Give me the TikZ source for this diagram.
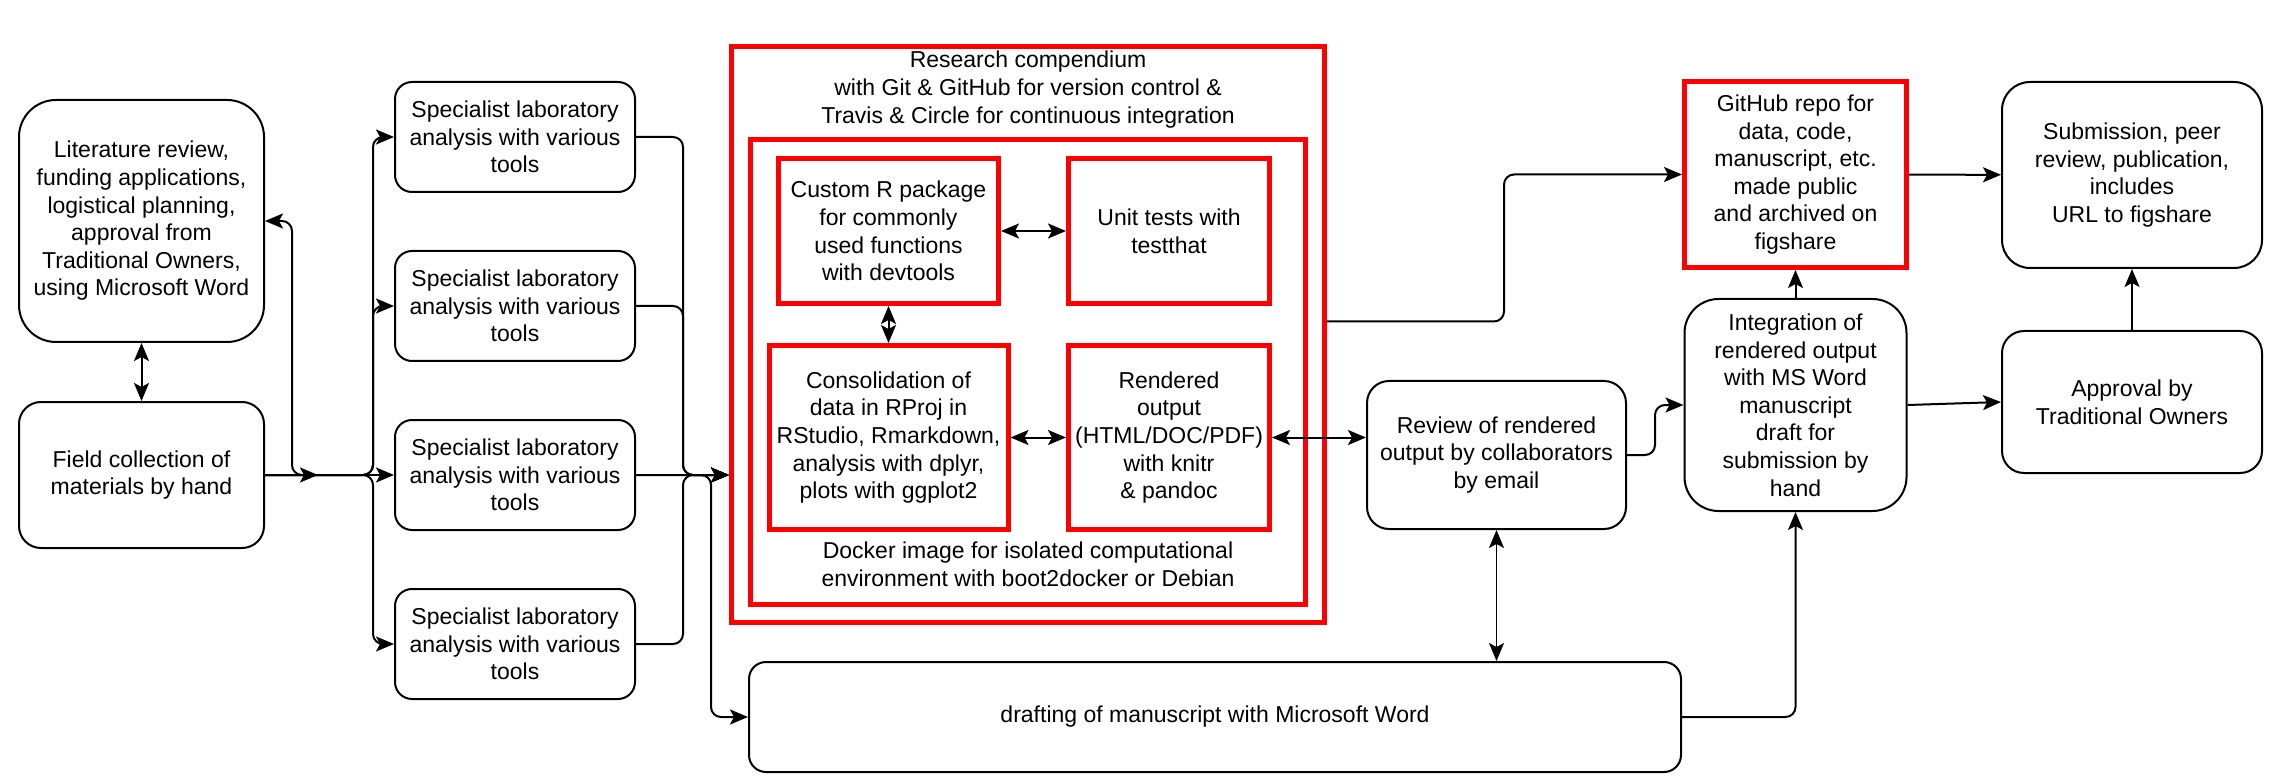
\documentclass[tikz,border=0pt]{standalone}
\usepackage{fontspec}
\setmainfont{Liberation Sans}
\usepackage{xcolor}
\usetikzlibrary{arrows.meta,positioning,calc}
\definecolor{compred}{RGB}{255,0,0}

\begin{document}
\begin{tikzpicture}[
    x=1pt, y=-1pt,
    every node/.style={font=\fontsize{23}{27.6}\selectfont, align=center},
    >={Stealth[length=18pt,width=15pt,inset=4pt]},
    box/.style={rectangle, draw=black, line width=2pt, inner sep=0pt},
    lab/.style={box, minimum width=240pt, minimum height=110pt, rounded corners=17pt},
    redbox/.style={rectangle, draw=compred, line width=5pt, inner sep=0pt},
    line/.style={line width=2pt},
    bent/.style={rounded corners=10pt},
    arrow/.style={line, ->},
    dbl/.style={line, <->}
]
\useasboundingbox (0,0) rectangle (2286,783);

% Planning and field work
\node[box, minimum width=245pt, minimum height=242pt, rounded corners=37pt] (lit) at (141.5,221) {Literature review,\\funding applications,\\logistical planning,\\approval from\\Traditional Owners,\\using Microsoft Word};

\node[box, minimum width=245pt, minimum height=146pt, rounded corners=22pt] (field) at (141.5,475) {Field collection of\\materials by hand};

% Laboratory analyses
\node[lab] (lab1) at (515,137) {Specialist laboratory\\analysis with various\\tools};
\node[lab, below=57pt of lab1] (lab2) {Specialist laboratory\\analysis with various\\tools};
\node[lab, below=57pt of lab2] (lab3) {Specialist laboratory\\analysis with various\\tools};
\node[lab, below=57pt of lab3] (lab4) {Specialist laboratory\\analysis with various\\tools};

% Research compendium
\node[redbox, minimum width=593pt, minimum height=576pt] (comp) at (1028,334.5) {};
\node[anchor=north, inner sep=0pt] (comptitle) at ([yshift=-7pt]comp.north) {Research compendium\\with Git \& GitHub for version control \&\\Travis \& Circle for continuous integration};

\node[redbox, minimum width=555pt, minimum height=465pt] (docker) at (1028,372) {};
\node[anchor=south, inner sep=0pt] (dockertext) at ([yshift=20pt]docker.south) {Docker image for isolated computational\\environment with boot2docker or Debian};

\node[redbox, minimum width=220pt, minimum height=145pt] (pkg) at (888.5,231) {Custom R package\\for commonly\\used functions\\with devtools};
\node[redbox, minimum width=201pt, minimum height=145pt, right=65pt of pkg] (tests) {Unit tests with\\testthat};
\node[redbox, minimum width=239pt, minimum height=184pt, below=37pt of pkg] (cons) {Consolidation of\\data in RProj in\\RStudio, Rmarkdown,\\analysis with dplyr,\\plots with ggplot2};
\node[redbox, minimum width=201pt, minimum height=184pt, below=37pt of tests] (render) {Rendered\\output\\(HTML/DOC/PDF)\\with knitr\\\& pandoc};

% Writing and publication
\node[box, minimum width=259pt, minimum height=148pt, rounded corners=22pt] (review) at (1496.5,455) {Review of rendered\\output by collaborators\\by email};
\node[box, minimum width=932pt, minimum height=110pt, rounded corners=17pt] (draft) at (1215,717) {drafting of manuscript with Microsoft Word};

\node[redbox, minimum width=222pt, minimum height=186pt] (github) at (1795.5,174.5) {GitHub repo for\\data, code,\\manuscript, etc.\\made public\\and archived on\\figshare};
\node[box, minimum width=222pt, minimum height=212pt, rounded corners=34pt, below=28pt of github] (integ) {Integration of\\rendered output\\with MS Word\\manuscript\\draft for\\submission by\\hand};

\node[box, minimum width=260pt, minimum height=186pt, rounded corners=28pt] (submit) at (2132,175) {Submission, peer\\review, publication,\\includes\\URL to figshare};
\node[box, minimum width=260pt, minimum height=142pt, rounded corners=22pt, below=61pt of submit] (approve) {Approval by\\Traditional Owners};

% Connectors on the left
\coordinate (jn) at (318,475);
\draw[dbl] (lit) -- (field);
\draw[dbl, bent] (lit.east) -- ++(27,0) |- (jn);
\draw[arrow] (field) -- (lab3);
\foreach \i in {1,2,4}
    \draw[arrow, bent] (field.east) -- ++(108,0) |- (lab\i.west);

% Into the compendium and the draft
\coordinate (cin) at (lab3 -| comp.west);
\draw[arrow] (lab3) -- (cin);
\foreach \i in {1,2,4}
    \draw[arrow, bent] (lab\i.east) -- ++(47,0) |- (cin);
\draw[arrow, bent] (lab3.east) -- ++(75,0) |- (draft.west);

% Inside the compendium
\draw[dbl] (pkg) -- (tests);
\draw[dbl] (pkg) -- (cons);
\draw[dbl] (cons) -- (render);
\draw[dbl] (render.east) -- (render.east -| review.west);

% Connectors on the right
\draw[arrow, bent] ([yshift=13pt]comp.east) -- ++(177,0) |- (github.west);
\draw[arrow] (github) -- (submit);
\draw[arrow] (integ) -- (github);
\draw[arrow] (approve) -- (submit);
\draw[arrow] (integ.east) -- (approve.west);
\draw[arrow, bent] (review.east) -- ++(28,0) |- (integ.west);
\draw[dbl, line width=1.3pt] (review) -- (review |- draft.north);
\draw[arrow, bent] (draft.east) -| (integ.south);

\end{tikzpicture}
\end{document}
